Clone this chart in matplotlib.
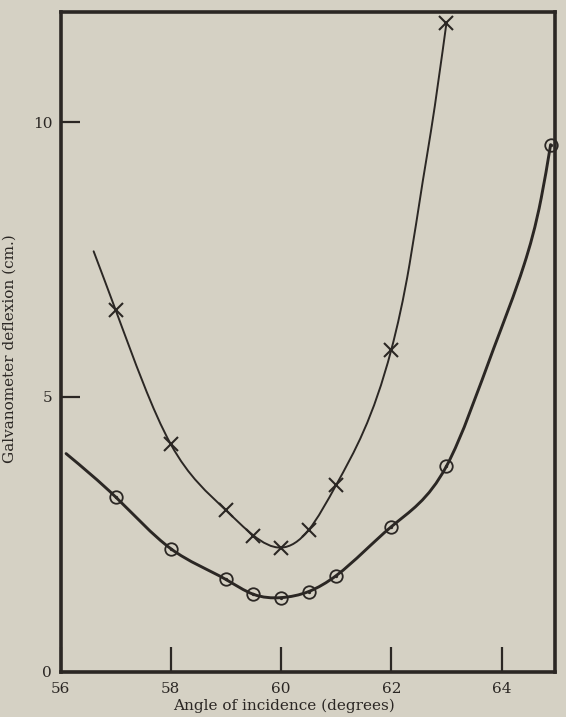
import numpy as np
import matplotlib
matplotlib.use("Agg")
import matplotlib.pyplot as plt
from matplotlib.path import Path
from matplotlib.patches import PathPatch

# ---- data ----
# measured points (crosses)
angle_cross = [57, 58, 59, 59.5, 60, 60.5, 61, 62, 63]
defl_cross = [6.58, 4.14, 2.94, 2.48, 2.26, 2.58, 3.40, 5.86, 11.8]
# where the drawn cross curve runs beyond/between the marks
cross_line_angle = [56.6, 62.33, 62.57, 62.72]
cross_line_defl = [7.65, 7.41, 8.92, 9.84]

# measured points (circles)
angle_circle = [57, 58, 59, 59.5, 60, 60.5, 61, 62, 63, 64.89]
defl_circle = [3.18, 2.24, 1.68, 1.41, 1.35, 1.46, 1.75, 2.64, 3.74, 9.59]
circle_line_angle = [56.1, 63.86, 64.41, 64.72]
circle_line_defl = [3.97, 5.89, 7.41, 8.62]

xticks = [56, 58, 60, 62, 64]
yticks = [0, 5, 10]
xlabel = "Angle of incidence (degrees)"
ylabel = "Galvanometer deflexion (cm.)"

paper = "#d5d1c4"
ink = "#2b2724"


def smooth_path(xs, ys):
    """Natural cubic spline through the points, drawn as Bezier segments."""
    order = np.argsort(xs)
    x = np.asarray(xs, float)[order]
    y = np.asarray(ys, float)[order]
    n = len(x)
    h = np.diff(x)
    d = np.diff(y) / h
    A = np.zeros((n, n))
    b = np.zeros(n)
    A[0, 0] = A[-1, -1] = 1.0
    for i in range(1, n - 1):
        A[i, i - 1] = h[i - 1]
        A[i, i] = 2 * (h[i - 1] + h[i])
        A[i, i + 1] = h[i]
        b[i] = 6 * (d[i] - d[i - 1])
    M = np.linalg.solve(A, b)
    m = np.empty(n)
    m[:-1] = d - h * (2 * M[:-1] + M[1:]) / 6
    m[-1] = d[-1] + h[-1] * (M[-2] + 2 * M[-1]) / 6
    verts = [(x[0], y[0])]
    codes = [Path.MOVETO]
    for i in range(n - 1):
        verts += [(x[i] + h[i] / 3, y[i] + m[i] * h[i] / 3),
                  (x[i + 1] - h[i] / 3, y[i + 1] - m[i + 1] * h[i] / 3),
                  (x[i + 1], y[i + 1])]
        codes += [Path.CURVE4] * 3
    return Path(verts, codes)


fig = plt.figure(figsize=(5.66, 7.17), dpi=100, facecolor=paper)
ax = fig.add_axes([0.107, 0.063, 0.8736, 0.92], facecolor=paper)
ax.set_xlim(56, 64.97)
ax.set_ylim(0, 12.0)

# curves
ax.add_patch(PathPatch(smooth_path(cross_line_angle + angle_cross,
                                   cross_line_defl + defl_cross),
                       fill=False, edgecolor=ink, lw=1.4, capstyle="round"))
ax.add_patch(PathPatch(smooth_path(circle_line_angle + angle_circle,
                                   circle_line_defl + defl_circle),
                       fill=False, edgecolor=ink, lw=2.1, capstyle="round"))

# markers
ax.plot(angle_cross, defl_cross, linestyle="none", marker="x", ms=9.5,
        mew=1.5, color=ink, clip_on=False, zorder=3)
ax.plot(angle_circle, defl_circle, linestyle="none", marker="o", ms=9,
        mew=1.3, mfc="none", mec=ink, clip_on=False, zorder=3)
ax.plot(angle_circle, defl_circle, linestyle="none", marker="o", ms=2.4,
        mew=0, color=ink, clip_on=False, zorder=3)

for s in ax.spines.values():
    s.set_color(ink)
    s.set_linewidth(2.6)

serif = ["DejaVu Serif"]
ax.set_xticks(xticks)
ax.set_xticklabels([str(v) for v in xticks], family=serif, fontsize=11, color=ink)
ax.set_yticks(yticks)
ax.set_yticklabels([str(v) for v in yticks], family=serif, fontsize=11, color=ink)
ax.tick_params(axis="x", direction="in", length=18, width=1.6, color=ink, pad=7)
ax.tick_params(axis="y", direction="in", length=14, width=1.6, color=ink, pad=6)

ax.set_xlabel(xlabel, family=serif, fontsize=11, color=ink)
ax.xaxis.set_label_coords(0.452, -0.040)
ax.set_ylabel(ylabel, family=serif, fontsize=11, color=ink)
ax.yaxis.set_label_coords(-0.088, 0.49)

fig.savefig("out.png", dpi=100, facecolor=paper)
